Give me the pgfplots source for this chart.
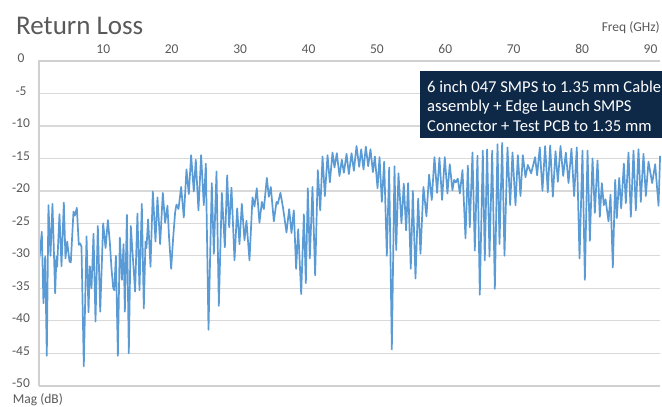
\documentclass[border=0pt]{standalone}
\usepackage{pgfplots}
\pgfplotsset{compat=1.18}
\usepackage{fontspec}
\setmainfont{Carlito}
\definecolor{gridc}{HTML}{D9D9D9}
\definecolor{axc}{HTML}{D0D0D0}
\definecolor{txt}{HTML}{595959}
\definecolor{serie}{HTML}{5B9BD5}
\definecolor{navy}{RGB}{14,40,72}
\begin{document}
\begin{tikzpicture}
\useasboundingbox (-39pt,-21.3pt) rectangle (623pt,385.7pt);
\begin{axis}[at={(0,0)}, anchor=south west, scale only axis,
  width=621.1pt, height=324.7pt,
  xmin=0.6, xmax=91.4, ymin=-50, ymax=0, clip=false,
  axis x line*=top, axis y line*=left,
  axis line style={draw=none},
  xtick={10,20,...,90}, ytick={0,-5,...,-50},
  major tick length=0pt,
  ymajorgrids, grid style={gridc, line width=1.3pt},
  tick label style={font=\fontsize{13.5}{16}\selectfont, text=txt},
  /pgf/number format/assume math mode=true,
  xticklabel style={anchor=center, yshift=12pt},
  yticklabel style={anchor=center, xshift=-18pt, yshift=2.5pt},
]
\addplot[serie, line width=1.7pt, line join=round, mark=none] coordinates {
(0.6,-30.8) (0.72,-29.8) (1.01,-26.3) (1.25,-37.3) (1.50,-30.1) (1.74,-45.4)
(1.98,-22.2) (2.28,-30.0) (2.57,-22.0) (2.96,-35.8) (3.15,-30.1) (3.25,-31.7)
(3.59,-23.6) (3.89,-31.6) (4.23,-21.8) (4.47,-30.4) (4.72,-27.8) (5.06,-30.9)
(5.25,-31.0) (5.64,-23.2) (5.84,-23.8) (6.13,-22.6) (6.42,-28.3) (6.62,-28.1)
(6.81,-28.6) (7.15,-47.0) (7.55,-27.0) (7.84,-38.7) (8.03,-31.6) (8.28,-35.0)
(8.57,-26.6) (8.86,-40.1) (9.20,-25.4) (9.55,-38.6) (9.98,-25.0) (10.33,-28.8)
(10.67,-24.5) (10.96,-28.0) (11.2,-32.0) (11.45,-35.0) (11.6,-35.3) (11.84,-30.0)
(12.13,-45.4) (12.42,-27.2) (12.72,-33.7) (12.96,-28.2) (13.15,-38.6) (13.45,-23.7)
(13.73,-45.0) (14.02,-25.4) (14.65,-35.5) (14.99,-23.5) (15.29,-35.3) (15.63,-22.0)
(15.92,-38.1) (16.17,-27.8) (16.31,-28.8) (16.55,-24.4) (16.90,-31.7) (17.24,-20.1)
(17.63,-27.8) (17.92,-21.0) (18.31,-28.2) (18.70,-20.3) (19.04,-24.9) (19.38,-22.3)
(19.62,-27.3) (19.92,-32.0) (20.21,-27.3) (20.5,-23.3) (20.70,-22.1) (20.99,-22.8)
(21.38,-19.4) (21.77,-24.1) (22.16,-16.7) (22.50,-20.5) (22.84,-14.5) (23.23,-20.1)
(23.52,-15.2) (23.91,-23.0) (24.30,-14.5) (24.69,-22.2) (24.99,-15.8) (25.38,-41.4)
(25.86,-18.8) (26.16,-29.7) (26.55,-17.0)
(26.89,-37.7) (27.33,-20.3) (27.77,-28.7) (28.11,-17.6) (28.40,-25.6) (28.74,-19.5)
(29.18,-30.7) (29.57,-22.7) (29.91,-28.2) (30.25,-22.0) (30.64,-27.6) (30.93,-24.6)
(31.37,-30.7) (31.81,-21.0) (32.10,-22.4) (32.44,-19.6) (32.83,-24.9) (33.18,-21.7)
(33.47,-22.8) (33.91,-18.0) (34.20,-20.9) (34.49,-19.4) (34.93,-24.7) (35.32,-21.7)
(35.51,-22.0) (35.90,-20.3) (36.29,-22.7) (36.78,-26.4) (37.17,-22.8) (37.51,-26.5)
(37.85,-23.0) (38.19,-32.0) (38.49,-25.9) (38.93,-35.9) (39.32,-23.6) (39.61,-34.2)
(39.90,-19.6)
(40.19,-30.4) (40.58,-19.4) (40.97,-33.0) (41.36,-16.8) (41.71,-23.0) (42.05,-14.7)
(42.39,-20.8) (42.78,-14.5) (43.12,-18.7) (43.51,-14.1) (43.80,-16.4) (44.14,-14.2)
(44.53,-17.7) (44.87,-15.2) (45.17,-17.2) (45.56,-14.3) (45.90,-17.4) (46.29,-14.2)
(46.63,-16.9) (47.02,-13.1) (47.41,-16.3) (47.70,-13.6) (48.04,-16.7) (48.38,-13.2)
(48.72,-16.2) (49.06,-13.6) (49.41,-17.1) (49.70,-14.7) (50.09,-19.6) (50.38,-14.8)
(50.72,-21.7) (51.06,-15.5) (51.45,-30.0) (51.79,-16.4) (52.18,-44.4) (52.57,-16.2)
(52.82,-29.1)
(53.15,-17.3) (53.59,-25.0) (53.93,-18.9) (54.27,-26.1) (54.56,-18.8) (54.95,-32.0)
(55.25,-20.0) (55.64,-33.5) (56.03,-21.2) (56.37,-29.7) (56.80,-19.4) (57.24,-23.9)
(57.63,-17.5) (58.02,-21.4) (58.41,-14.8) (58.80,-20.3) (59.14,-14.9) (59.53,-21.4)
(59.92,-14.8) (60.31,-20.4) (60.65,-15.9) (61.04,-19.9) (61.29,-18.3) (61.53,-18.7)
(61.82,-18.1) (62.12,-20.4) (62.51,-16.8) (62.95,-27.3) (63.29,-16.1) (63.58,-25.6)
(63.97,-14.1) (64.31,-29.2) (64.70,-14.6) (65.04,-36.0) (65.48,-13.8) (65.77,-30.7)
(66.11,-13.6)
(66.46,-30.1) (66.85,-13.8) (67.24,-35.1) (67.63,-12.8) (67.92,-28.2) (68.31,-12.6)
(68.65,-30.0) (69.09,-13.3) (69.48,-22.2) (69.82,-14.1) (70.26,-22.2) (70.60,-14.5)
(70.99,-20.8) (71.33,-14.5) (71.72,-17.9) (72.06,-16.0) (72.55,-17.3) (73.13,-14.8)
(73.42,-17.6) (73.81,-13.3) (74.20,-20.0) (74.59,-13.1) (74.98,-20.2) (75.33,-13.0)
(75.72,-20.9) (76.11,-13.9) (76.45,-18.6) (76.84,-13.1) (77.23,-17.7) (77.62,-14.1)
(78.01,-18.8) (78.44,-13.5) (78.83,-20.8) (79.22,-13.3)
(79.62,-30.4) (80.05,-13.8) (80.40,-33.7) (80.79,-13.8) (81.13,-27.7) (81.52,-15.0)
(81.86,-23.4) (82.25,-15.3) (82.59,-24.0) (82.88,-18.8) (83.17,-22.2) (83.42,-21.3)
(83.86,-24.7) (84.15,-20.6) (84.49,-31.8) (84.83,-18.3) (85.07,-24.2) (85.42,-18.0)
(85.71,-22.7) (86.10,-15.8) (86.39,-21.9) (86.78,-14.1) (87.12,-24.0) (87.51,-13.8)
(87.85,-23.0) (88.24,-13.6) (88.58,-21.7) (88.97,-14.3) (89.31,-20.8) (89.70,-15.5)
(90.24,-18.8) (90.68,-15.9) (91.17,-22.3) (91.4,-14.6)
};
\draw[axc, line width=2.5pt] (rel axis cs:0,0) -- (rel axis cs:0,1) -- (rel axis cs:1,1);
\draw[axc, line width=2.2pt] (rel axis cs:0,0) -- (rel axis cs:1,0);
\end{axis}
\fill[navy] (381pt,247.7pt) rectangle (623pt,314.7pt);
\node[anchor=base west, inner sep=0pt, text=white, font=\fontsize{16.6}{20}\selectfont] at (388pt,293.2pt) {6 inch 047 SMPS to 1.35 mm Cable};
\node[anchor=base west, inner sep=0pt, text=white, font=\fontsize{16.6}{20}\selectfont] at (388pt,273.7pt) {assembly + Edge Launch SMPS};
\node[anchor=base west, inner sep=0pt, text=white, font=\fontsize{16.6}{20}\selectfont] at (388pt,254.2pt) {Connector + Test PCB to 1.35 mm};
\node[anchor=base west, inner sep=0pt, text=txt, font=\fontsize{27}{32}\selectfont] at (-23pt,350.7pt) {Return Loss};
\node[anchor=base east, inner sep=0pt, text=txt, font=\fontsize{13.5}{16}\selectfont] at (621pt,354pt) {Freq (GHz)};
\node[anchor=base west, inner sep=0pt, text=txt, font=\fontsize{13.5}{16}\selectfont] at (-26.3pt,-17.6pt) {Mag (dB)};
\end{tikzpicture}
\end{document}
